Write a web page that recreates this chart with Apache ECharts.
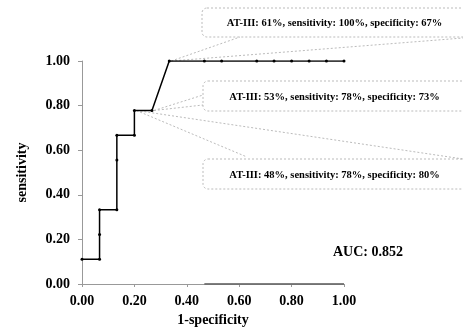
<!DOCTYPE html>
<html><head><meta charset="utf-8">
<script src="https://cdn.jsdelivr.net/npm/echarts@6/dist/echarts.min.js"></script>
<style>html,body{margin:0;padding:0;background:#fff}#c{width:463px;height:333px}</style>
</head><body><div id="c"></div>
<script>
var fpr = [0, 0.067, 0.067, 0.067, 0.133, 0.133, 0.133, 0.2, 0.2, 0.267, 0.333, 0.467, 0.533, 0.667, 0.733, 0.8, 0.867, 0.933, 1.0];
var tpr = [0.111, 0.111, 0.222, 0.333, 0.333, 0.556, 0.667, 0.667, 0.778, 0.778, 1, 1, 1, 1, 1, 1, 1, 1, 1];
var baseX = [0.467, 1.0];
var baseY = [0, 0];
var xTicks = ['0.00','0.20','0.40','0.60','0.80','1.00'];
var yTicks = ['0.00','0.20','0.40','0.60','0.80','1.00'];
var notes = [
  'AT-III: 61%, sensitivity: 100%, specificity: 67%',
  'AT-III: 53%, sensitivity: 78%, specificity: 73%',
  'AT-III: 48%, sensitivity: 78%, specificity: 80%'
];
var noteX = [0.333, 0.267, 0.2];
var noteY = [1, 0.778, 0.778];
var aucText = 'AUC: 0.852';

var FONT = '"Liberation Serif", "Times New Roman", serif';
var chart = echarts.init(document.getElementById('c'));
var roc = fpr.map(function(x,i){return [x,tpr[i]];});
var base = baseX.map(function(x,i){return [x,baseY[i]];});
chart.setOption({
  animation:false,
  grid:{left:82,right:119,top:61,bottom:49},
  xAxis:{type:'value',min:0,max:1,interval:0.2,
    name:'1-specificity',nameLocation:'middle',nameGap:28,
    nameTextStyle:{fontFamily:FONT,fontWeight:'bold',fontSize:14,color:'#000'},
    axisLine:{lineStyle:{color:'#999',width:1}},
    axisTick:{show:true,length:3,lineStyle:{color:'#999'}},
    axisLabel:{fontFamily:FONT,fontWeight:'bold',fontSize:14,color:'#000',margin:10,
      formatter:function(v){return xTicks[Math.round(v/0.2)];}},
    splitLine:{show:false}},
  yAxis:{type:'value',min:0,max:1,interval:0.2,
    name:'sensitivity',nameLocation:'middle',nameGap:53,
    nameTextStyle:{fontFamily:FONT,fontWeight:'bold',fontSize:14,color:'#000'},
    axisLine:{show:true,lineStyle:{color:'#999',width:1}},
    axisTick:{show:true,length:4,lineStyle:{color:'#999'}},
    axisLabel:{fontFamily:FONT,fontWeight:'bold',fontSize:14,color:'#000',margin:12,
      formatter:function(v){return yTicks[Math.round(v/0.2)];}},
    splitLine:{show:false}},
  series:[
    {type:'line',data:roc,symbol:'circle',symbolSize:3,
     lineStyle:{color:'#000',width:1.5},itemStyle:{color:'#000'}},
    {type:'line',data:base,symbol:'none',lineStyle:{color:'#000',width:1}}
  ]
});

var boxes = [
  {x:202,y:8,w:275,h:29},
  {x:203,y:81,w:275,h:30},
  {x:203,y:159,w:275,h:30}
];
var ptrs = [
  [[240,37],[463,38]],
  [[203,95],[203,105]],
  [[247,157],[463,159]]
];
var g = [];
var dash = {stroke:'#aaa',lineWidth:0.8,lineDash:[2,2],fill:null};
for (var i=0;i<notes.length;i++){
  var p = chart.convertToPixel({gridIndex:0},[noteX[i],noteY[i]]);
  var b = boxes[i];
  g.push({type:'rect',shape:{x:b.x,y:b.y,width:b.w,height:b.h,r:5},style:dash,silent:true});
  ptrs[i].forEach(function(q){
    g.push({type:'line',shape:{x1:p[0]+2,y1:p[1],x2:q[0],y2:q[1]},style:{stroke:'#aaa',lineWidth:0.8,lineDash:[2,2]},silent:true});
  });
  g.push({type:'text',x:334.5,y:b.y+b.h/2+1,style:{text:notes[i],font:'bold 10.5px '+FONT,fill:'#000',textAlign:'center',textVerticalAlign:'middle'}});
}
g.push({type:'text',x:368,y:252,style:{text:aucText,font:'bold 14px '+FONT,fill:'#000',textAlign:'center',textVerticalAlign:'middle'}});
chart.setOption({graphic:g});
</script></body></html>
